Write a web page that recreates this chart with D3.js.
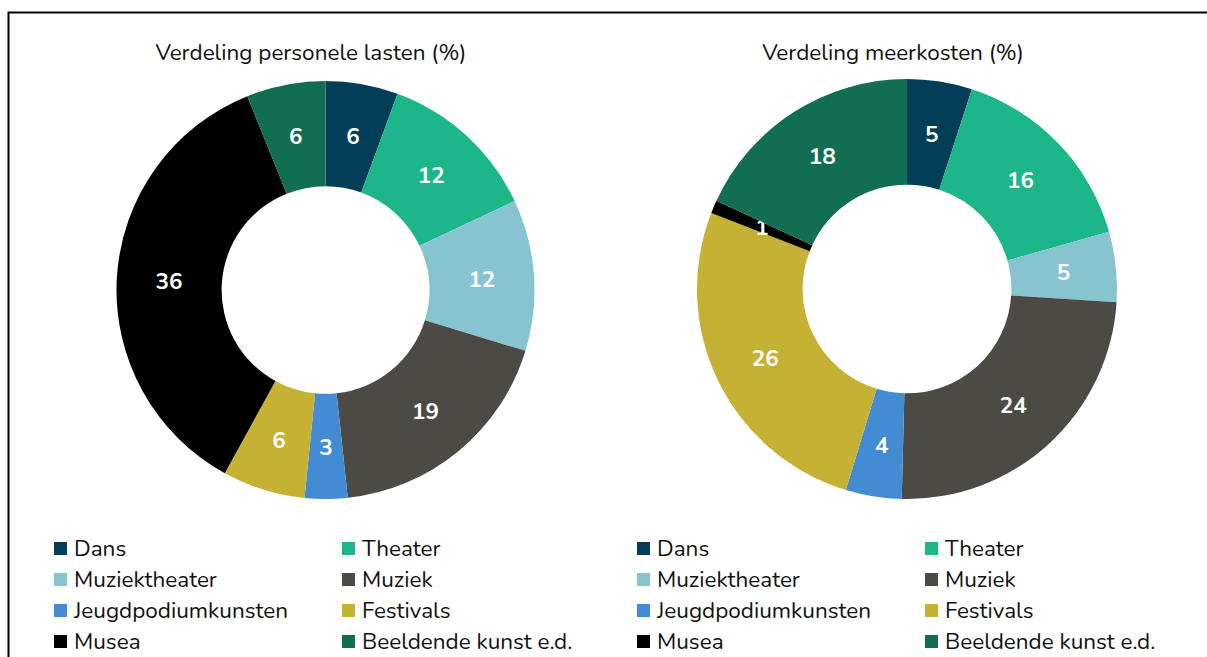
<!DOCTYPE html>
<html>
<head>
<meta charset="utf-8">
<script src="https://cdn.jsdelivr.net/npm/d3@7"></script>
<style>
  body { margin: 0; background: #fff; }
  svg { display: block; font-family: "Nunito", "Lato", "Open Sans", sans-serif; }
</style>
</head>
<body>
<div id="chart"></div>
<script>
const categories = ["Dans", "Theater", "Muziektheater", "Muziek", "Jeugdpodiumkunsten", "Festivals", "Musea", "Beeldende kunst e.d."];
const colors = ["#033e58", "#1db68a", "#86c5cf", "#4b4a45", "#438bd3", "#c5b133", "#000000", "#126e52"];
// shares; labels show them rounded
const personeleLasten = [5.6, 12.4, 11.7, 18.6, 3.3, 6.4, 35.9, 6.1];
const meerkosten = [5.0, 15.6, 5.4, 24.4, 4.3, 26.2, 1.0, 18.1];
const titles = ["Verdeling personele lasten (%)", "Verdeling meerkosten (%)"];

const width = 1207, height = 657;

const svg = d3.select("#chart")
    .append("svg")
    .attr("width", width)
    .attr("height", height);

// outer frame, runs off the right and bottom edge
svg.append("rect")
    .attr("x", 8.5).attr("y", 12.5)
    .attr("width", 1230).attr("height", 700)
    .attr("fill", "none")
    .attr("stroke", "#000")
    .attr("stroke-width", 2);

const color = d3.scaleOrdinal().domain(categories).range(colors);

const pie = d3.pie().sort(null).value(d => d.value);

let charts = [
    {title: titles[0], values: personeleLasten, cx: 325.5, cy: 290, r: 209, tx: 311, lx: 54},
    {title: titles[1], values: meerkosten, cx: 907, cy: 289, r: 210, tx: 893, lx: 637}
];

charts.forEach(function(c) {
    let data = categories.map((k, i) => ({key: k, value: c.values[i]}));
    let arc = d3.arc().innerRadius(c.r * 0.497).outerRadius(c.r);
    let labelArc = d3.arc().innerRadius(c.r * 0.75).outerRadius(c.r * 0.75);

    svg.append("text")
        .attr("x", c.tx).attr("y", 60)
        .attr("text-anchor", "middle")
        .attr("font-size", 22.5)
        .attr("fill", "#111")
        .text(c.title);

    let g = svg.append("g").attr("transform", "translate(" + c.cx + "," + c.cy + ")");

    let slices = g.selectAll(".slice")
        .data(pie(data))
        .enter().append("g").attr("class", "slice");

    slices.append("path")
        .attr("d", arc)
        .attr("fill", d => color(d.data.key));

    slices.append("text")
        .attr("transform", d => "translate(" + labelArc.centroid(d) + ")")
        .attr("text-anchor", "middle")
        .attr("dy", "0.36em")
        .attr("font-size", 22.5)
        .attr("font-weight", "bold")
        .attr("fill", "#fff")
        .text(d => Math.round(d.data.value));

    // legend, two columns x four rows
    let legend = svg.append("g").attr("class", "legend");
    let items = legend.selectAll(".item")
        .data(categories)
        .enter().append("g")
        .attr("class", "item")
        .attr("transform", (d, i) => "translate(" + (c.lx + (i % 2) * 288) + "," + (548 + Math.floor(i / 2) * 31) + ")");

    items.append("rect")
        .attr("x", 0).attr("y", -6)
        .attr("width", 13).attr("height", 13)
        .attr("fill", d => color(d));

    items.append("text")
        .attr("x", 20).attr("y", 0)
        .attr("dy", "0.35em")
        .attr("font-size", 22.5)
        .attr("fill", "#111")
        .text(d => d);
});
</script>
</body>
</html>
